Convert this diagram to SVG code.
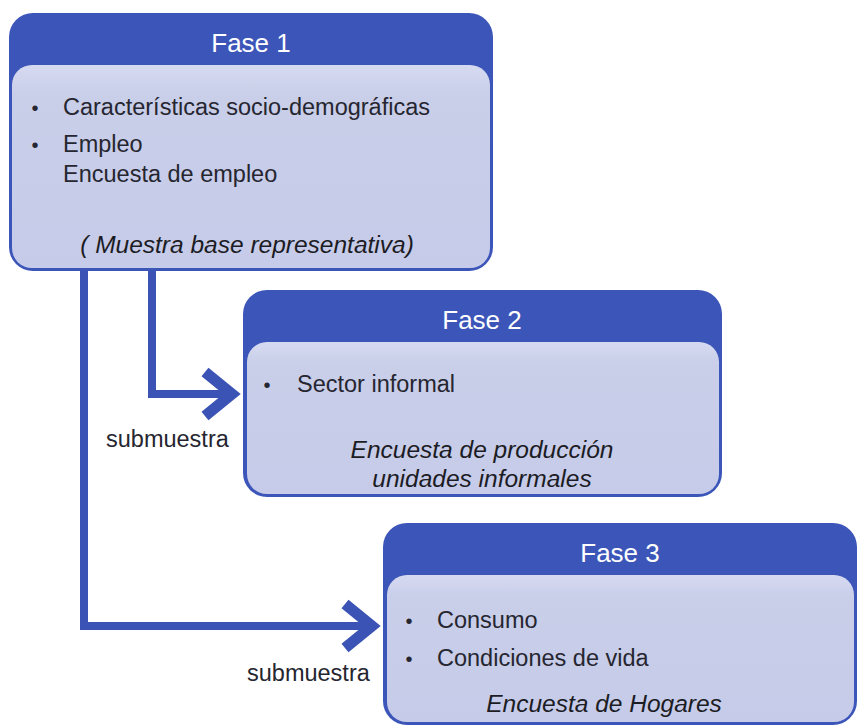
<svg xmlns="http://www.w3.org/2000/svg" width="859" height="727" viewBox="0 0 859 727">
  <style>
    .outer { fill: #3c55b8; }
    .inner { fill: url(#innerGrad); }
    .head { font-family: "Liberation Sans", Arial, sans-serif; font-size: 26px; fill: #ffffff; text-anchor: middle; }
    .body { font-family: "Liberation Sans", Arial, sans-serif; font-size: 23.5px; fill: #262630; }
    .bullet { font-family: "Liberation Sans", Arial, sans-serif; font-size: 20px; fill: #262630; text-anchor: middle; }
    .ital { font-family: "Liberation Sans", Arial, sans-serif; font-size: 24.5px; font-style: italic; fill: #1c1c24; text-anchor: middle; }
    .lbl { font-family: "Liberation Sans", Arial, sans-serif; font-size: 23.5px; fill: #262630; }
    .conn { fill: none; stroke: #3b53b5; stroke-width: 8; stroke-linejoin: miter; }
  </style>
  <defs>
    <linearGradient id="innerGrad" x1="0" y1="0" x2="0" y2="1">
      <stop offset="0" stop-color="#d6daf1"/>
      <stop offset="0.15" stop-color="#c9cee9"/>
      <stop offset="1" stop-color="#c6cbe9"/>
    </linearGradient>
    <marker id="chev" viewBox="-36 -30 46 60" refX="0" refY="0" markerWidth="46" markerHeight="60" markerUnits="userSpaceOnUse" orient="auto" overflow="visible">
      <path d="M-27 -22 L0 0 L-27 22" fill="none" stroke="#3b53b5" stroke-width="11" stroke-linejoin="miter" stroke-miterlimit="10"/>
    </marker>
  </defs>
  <rect width="859" height="727" fill="#ffffff"/>

  <g id="connectors">
    <path class="conn" d="M152 266 V394 H232" marker-end="url(#chev)"/>
    <path class="conn" d="M84 266 V626 H372" marker-end="url(#chev)"/>
    <text class="lbl" x="106" y="447">submuestra</text>
    <text class="lbl" x="247" y="681">submuestra</text>
  </g>

  <g id="fase1">
    <rect class="outer" x="9" y="13" width="484" height="258" rx="24"/>
    <rect class="inner" x="12" y="65" width="478" height="203" rx="20"/>
    <text class="head" x="251" y="52">Fase 1</text>
    <text class="bullet" x="35" y="115">•</text>
    <text class="body" x="63" y="115">Características socio-demográficas</text>
    <text class="bullet" x="35" y="152">•</text>
    <text class="body" x="63" y="152">Empleo</text>
    <text class="body" x="63" y="182">Encuesta de empleo</text>
    <text class="ital" x="247" y="253">( Muestra base representativa)</text>
  </g>

  <g id="fase2">
    <rect class="outer" x="243" y="290" width="479" height="207" rx="24"/>
    <rect class="inner" x="247" y="342" width="472" height="152" rx="20"/>
    <text class="head" x="482" y="329">Fase 2</text>
    <text class="bullet" x="267" y="392">•</text>
    <text class="body" x="297" y="392">Sector informal</text>
    <text class="ital" x="482" y="458">Encuesta de producción</text>
    <text class="ital" x="482" y="487">unidades informales</text>
  </g>

  <g id="fase3">
    <rect class="outer" x="383" y="523" width="474" height="202" rx="24"/>
    <rect class="inner" x="387" y="575" width="467" height="147" rx="20"/>
    <text class="head" x="620" y="562">Fase 3</text>
    <text class="bullet" x="409" y="628">•</text>
    <text class="body" x="437" y="628">Consumo</text>
    <text class="bullet" x="409" y="666">•</text>
    <text class="body" x="437" y="666">Condiciones de vida</text>
    <text class="ital" x="604" y="712">Encuesta de Hogares</text>
  </g>
</svg>
